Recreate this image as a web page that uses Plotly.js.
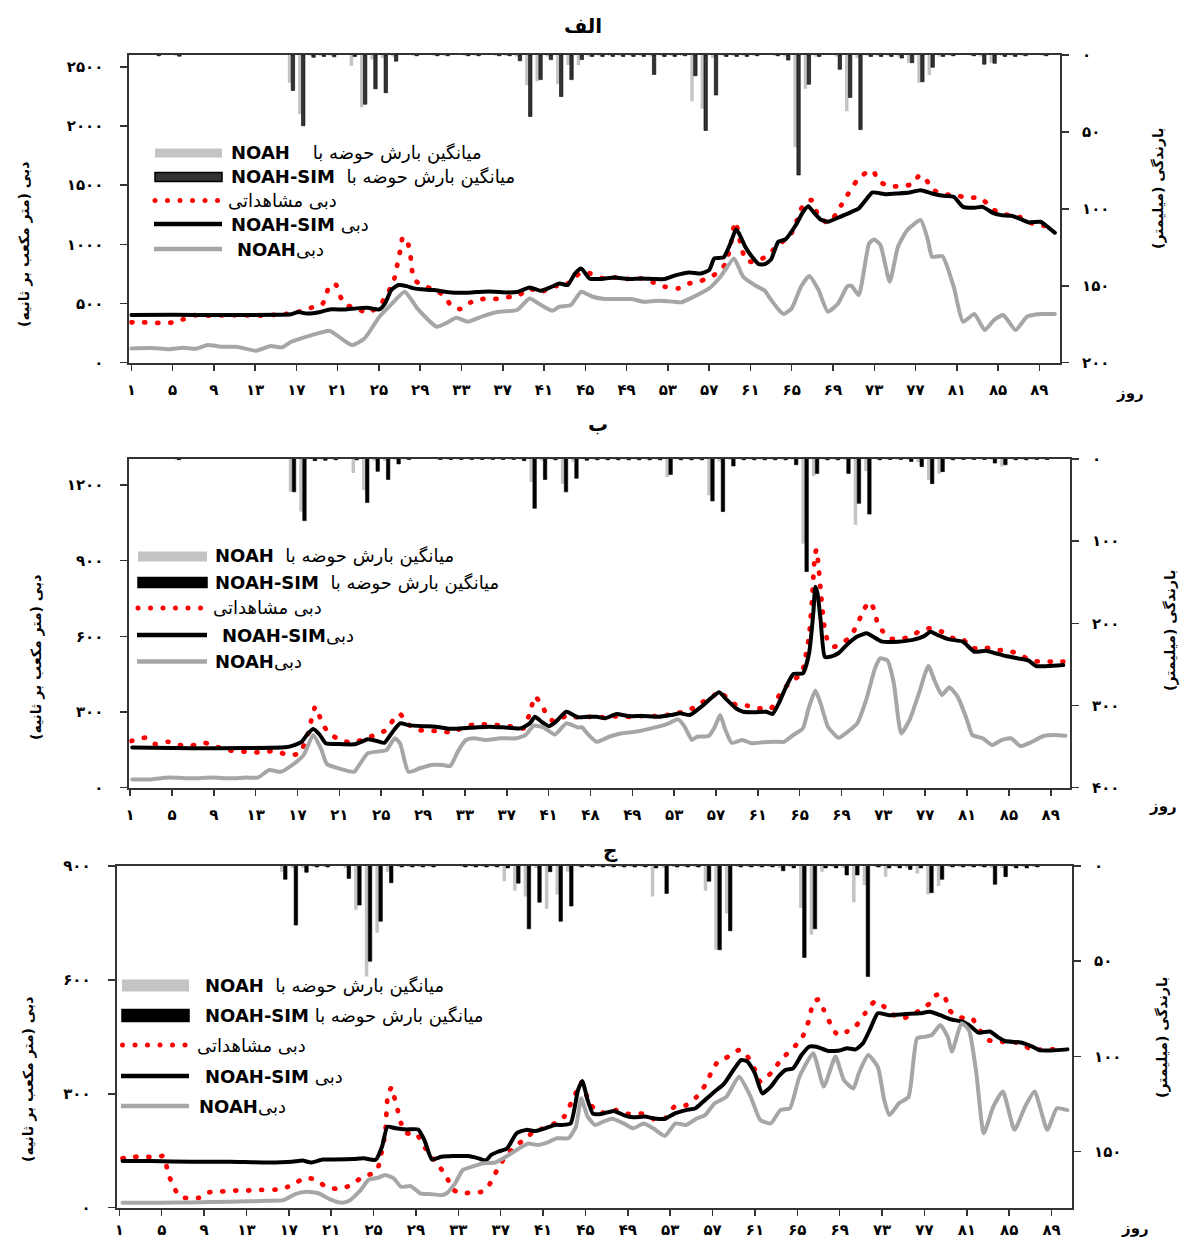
<!DOCTYPE html>
<html><head><meta charset="utf-8">
<script src="https://cdn.plot.ly/plotly-3.0.1.min.js"></script>
<style>
html,body{margin:0;padding:0;background:#fff}
#chart{width:1186px;height:1240px}
.scatterlayer .js-line{stroke-linecap:round;stroke-linejoin:round}
</style></head><body><div id="chart"></div>
<script>
// ---------------- DATA ----------------
const dayTicks = [1,5,9,13,17,21,25,29,33,37,41,45,49,53,57,61,65,69,73,77,81,85,89];
const dayTickTextAC = ['۱','۵','۹','۱۳','۱۷','۲۱','۲۵','۲۹','۳۳','۳۷','۴۱','۴۵','۴۹','۵۳','۵۷','۶۱','۶۵','۶۹','۷۳','۷۷','۸۱','۸۵','۸۹'];
const dayTickTextB  = ['۱','۵','۹','۱۳','۱۷','۲۱','۲۵','۲۹','۳۳','۳۷','۴۱','۴۸','۴۹','۵۳','۵۷','۶۱','۶۵','۶۹','۷۳','۷۷','۸۱','۸۵','۸۹'];

const qTicksA = [0,500,1000,1500,2000,2500];
const qTickTextA = ['۰','۵۰۰','۱۰۰۰','۱۵۰۰','۲۰۰۰','۲۵۰۰'];
const pTicksA = [0,50,100,150,200];
const pTickTextA = ['۰','۵۰','۱۰۰','۱۵۰','۲۰۰'];
const qTicksB = [0,300,600,900,1200];
const qTickTextB = ['۰','۳۰۰','۶۰۰','۹۰۰','۱۲۰۰'];
const pTicksB = [0,100,200,300,400];
const pTickTextB = ['۰','۱۰۰','۲۰۰','۳۰۰','۴۰۰'];
const qTicksC = [0,300,600,900];
const qTickTextC = ['۰','۳۰۰','۶۰۰','۹۰۰'];
const pTicksC = [0,50,100,150];
const pTickTextC = ['۰','۵۰','۱۰۰','۱۵۰'];

// Panel A (الف) — [day, discharge]
const aObs = [[1,341],[2,341],[3,338],[4,335],[5,340],[6,366],[7,400],[8,398],[9,397],[10,400],[11,400],[12,400],[13,398],[14,400],[15,405],[16,412],[17.2,430],[18.4,464],[19.5,492],[19.9,571],[20.2,656],[20.85,656],[21.2,571],[21.7,492],[22.8,460],[23.9,422],[25.05,480],[25.6,552],[26.1,628],[26.5,712],[26.7,797],[26.9,880],[27.1,965],[27.3,1058],[27.65,1050],[27.95,965],[28.1,873],[28.2,788],[28.4,704],[29.3,647],[30.4,620],[31.4,557],[32.0,481],[32.9,453],[33.9,510],[35.0,538],[36.2,538],[37.4,552],[38.6,571],[39.5,628],[40.7,594],[41.8,650],[42.9,642],[43.6,692],[44.6,763],[45.5,754],[46.7,712],[48,720],[49.3,707],[50.4,712],[51.6,678],[52.7,642],[54,628],[55.1,670],[56.2,692],[57.3,732],[58.1,782],[58.6,839],[59.1,1000],[59.5,1190],[59.8,1115],[60.1,980],[60.6,861],[61.4,853],[62.6,901],[63.5,980],[64.3,1036],[65,1098],[65.4,1177],[66.1,1331],[66.9,1374],[67.6,1239],[68.5,1182],[69.3,1255],[69.8,1331],[70.4,1416],[71.3,1537],[72.2,1605],[72.9,1619],[73.4,1537],[74.4,1492],[75.6,1492],[76.7,1509],[77.4,1585],[78.1,1537],[78.6,1464],[79.7,1424],[80.9,1416],[82,1393],[83.3,1393],[84.1,1331],[85,1267],[86.1,1247],[87.2,1227],[88.3,1177],[89.4,1157],[89.9,1150]];
const aSim = [[1,403],[5,405],[10,403],[15,405],[16.5,410],[17.2,428],[18,415],[19.3,428],[20.2,450],[21.7,450],[22.8,459],[23.9,464],[25.05,450],[25.6,501],[26.2,614],[26.9,656],[27.7,647],[28.4,628],[29.1,620],[30.3,614],[31.4,600],[32.5,591],[34,594],[35.1,600],[36.2,600],[37.4,594],[38.5,600],[39.6,636],[40.7,608],[41.6,636],[42.5,670],[43.3,656],[44,754],[44.6,797],[45.4,712],[46.5,707],[47.8,720],[49.1,707],[50.4,712],[51.7,707],[52.7,707],[53.8,740],[55.1,763],[56.2,754],[57,782],[57.5,881],[58.4,890],[59,994],[59.6,1126],[59.9,1092],[60.5,980],[61.1,901],[61.8,833],[62.4,833],[63,873],[63.7,1022],[64.4,1042],[65.4,1163],[66.1,1275],[66.6,1323],[67,1284],[67.8,1210],[68.5,1191],[69.7,1233],[70.8,1275],[71.5,1303],[72.3,1388],[72.8,1438],[74.1,1424],[75.3,1430],[76.4,1438],[77.5,1458],[78.6,1430],[79.7,1410],[80.7,1402],[81.6,1317],[82.7,1309],[83.5,1317],[84.6,1261],[85.3,1247],[86.3,1241],[87.2,1213],[88,1185],[89.1,1191],[89.6,1163],[90.5,1098]];
const aNoah = [[1,121],[3,124],[4.6,113],[6,127],[7.3,118],[8.4,149],[9.7,135],[11.2,135],[13.1,101],[14.5,141],[15.6,130],[16.5,177],[18,220],[19.1,248],[20.2,270],[21.1,220],[22.4,149],[23.6,205],[25.05,388],[26.2,493],[27.5,600],[28.8,450],[30.6,304],[31.6,338],[32.5,380],[33.6,346],[35.1,394],[36.6,430],[38.4,445],[39.6,543],[40.7,487],[41.8,439],[42.5,473],[43.6,487],[44.6,600],[45.7,557],[46.9,538],[48.4,538],[49.5,538],[50.6,515],[52.1,524],[53.6,515],[54.3,510],[55.5,557],[57,628],[58.1,726],[59.4,881],[60.3,726],[61.4,656],[62.4,608],[62.9,543],[63.9,431],[64.2,411],[65,459],[65.9,642],[66.7,732],[67.6,614],[68.5,431],[69.5,501],[70.4,647],[70.8,650],[71.5,571],[72.5,1008],[73,1042],[73.6,994],[74.5,684],[75.3,980],[76.2,1120],[77.5,1205],[78.2,1036],[78.6,895],[79.6,901],[80.7,642],[81.6,346],[82.7,411],[83.7,276],[84.6,360],[85.5,403],[86.7,276],[87.8,388],[89.1,411],[90.5,411]];
// [day, NOAH rain, NOAH-SIM rain] (mm)
const aRain = [[3,0,0.5],[5,0.5,0.8],[16,18,23],[17,38.5,46],[18,0.5,1.5],[19,0.5,1],[20,0.5,1.2],[22,7,1],[23,34,32],[24,3,22],[25,2,24.5],[26,1,4],[28,0.5,0.5],[30,0.5,0.5],[31,0.5,0.5],[33,0.5,0.5],[34,0.5,0.5],[36,0.5,0.5],[37,0.5,0.5],[38,1,3.7],[39,19.6,40],[40,17,16],[41,1,3],[42,19,27],[43,6.5,16],[44,6.5,3],[45,1,1],[46,0.5,1],[47,0.5,1],[48,0.5,1],[49,0.5,1],[50,0.5,1],[51,1,12.6],[52,0.5,1],[53,0.5,1],[54,0.5,0.5],[55,30,13.5],[56,35,49],[57,2,26],[58,0.5,1],[59,0.5,1],[60,0.5,1],[61,0.5,0.5],[63,0.5,0.5],[64,1,3.3],[65,60,78],[66,22,19],[67,1,1],[69,1,9.3],[70,36.5,27.6],[71,2,48.5],[72,0.5,1],[73,0.5,1],[74,0.5,1],[75,1,2],[76,5,5],[77,18,17.4],[78,13,8],[79,1,1],[80,0.5,0.5],[82,0.5,0.5],[83,1,6],[84,5,5.4],[85,0.5,1],[86,0.5,1],[87,0.5,0.5],[89,0.5,0.5]];

// Panel B (ب)
const bObs = [[1.1,185],[2.5,198],[3.4,173],[4.6,182],[5.7,169],[6.9,167],[8.1,178],[9.1,165],[10.2,149],[11.5,145],[12.7,139],[13.8,143],[14.9,145],[16.1,130],[17.2,136],[18.0,213],[18.2,245],[18.4,284],[18.7,321],[19.1,284],[19.5,245],[20.1,213],[21.1,189],[22.2,178],[23.3,192],[24.4,209],[25.5,229],[26.1,266],[26.8,292],[27.4,258],[28.3,231],[29.4,225],[30.7,225],[31.8,218],[32.9,242],[34.1,251],[35.3,251],[36.4,247],[37.6,242],[38.6,235],[39.1,284],[39.4,325],[39.7,363],[40.3,330],[40.8,292],[41.5,262],[42.7,285],[43.5,280],[44.2,281],[45.3,281],[46.4,279],[47.7,284],[48.8,281],[49.9,284],[51.2,284],[52.3,288],[53.4,297],[54.5,308],[55.4,334],[56.5,354],[57.3,381],[58.2,350],[58.9,328],[60,325],[61.1,315],[62.2,311],[62.8,348],[63.3,385],[64.2,420],[65.2,453],[65.5,506],[65.9,600],[66.2,760],[66.45,920],[66.6,945],[66.8,880],[67.05,760],[67.35,640],[67.7,580],[68.3,559],[69.1,575],[69.9,599],[70.4,641],[70.8,675],[71.2,711],[71.7,737],[72.2,698],[72.4,658],[72.9,622],[73.6,592],[74.7,588],[75.8,605],[76.8,628],[77.7,632],[78.6,618],[79.7,592],[80.6,588],[81.5,552],[82.6,557],[83.7,546],[85,543],[86.1,526],[87.1,504],[88,500],[89.1,500],[90.2,500]];
const bSim = [[1.2,159],[6.9,156],[12,157],[15.8,160],[16.7,169],[17.4,182],[18,215],[18.5,233],[19.1,211],[19.7,176],[20.9,173],[22.4,172],[23.1,182],[23.7,192],[24.6,185],[25.3,178],[26.1,222],[26.8,255],[27.6,248],[29,244],[30.2,242],[31.4,234],[32.5,235],[34,239],[35.3,242],[36.8,239],[38.3,235],[39.2,255],[39.7,281],[40.3,262],[41,244],[41.6,258],[42.7,301],[43.8,279],[44.7,281],[45.6,281],[46.4,275],[47.5,292],[48.6,284],[50,284],[51.5,281],[52.7,288],[53.6,295],[54.5,288],[55.6,321],[56.5,354],[57.3,378],[58,350],[58.9,315],[59.6,301],[60.7,299],[61.8,301],[62.4,292],[63,334],[63.7,400],[64.4,451],[65.3,453],[65.9,533],[66.3,691],[66.5,797],[66.7,771],[67,665],[67.4,519],[67.9,519],[68.7,533],[69.6,570],[70.5,599],[71.4,612],[72,599],[72.9,579],[74.4,579],[75.8,586],[76.9,601],[77.5,618],[78.2,605],[79.3,588],[80.6,579],[81.7,539],[82.8,543],[83.7,533],[84.7,522],[85.8,513],[86.9,504],[87.6,482],[88.7,482],[90.2,486]];
const bNoah = [[1.2,33],[3,33],[4.7,40],[6.9,37],[8.8,40],[10.6,37],[12.1,40],[13.2,40],[14.3,70],[15.4,63],[16.5,90],[17.6,130],[18.5,209],[19.3,149],[19.8,94],[20.9,77],[22.4,63],[22.9,90],[23.7,136],[24.6,143],[25.5,149],[26.3,196],[26.8,176],[27.6,63],[28.7,77],[29.8,90],[30.9,90],[31.6,86],[32.4,149],[33.1,189],[33.8,196],[35,189],[36.4,196],[37.9,196],[38.8,209],[39.6,246],[40.5,239],[41.6,211],[42.7,255],[43.8,239],[44.2,239],[44.7,215],[45.6,182],[46.8,202],[47.9,215],[49.3,222],[50.8,235],[52.3,252],[53.4,271],[54,242],[54.7,189],[55.2,202],[56.3,205],[56.9,242],[57.4,288],[57.9,229],[58.5,178],[59.5,189],[60.4,176],[61.5,180],[62.6,182],[63.5,182],[64.4,209],[65.3,235],[65.9,321],[66.5,385],[67,334],[67.7,242],[68.7,198],[69.6,222],[70.5,255],[71.4,354],[72.2,473],[72.7,513],[73.4,504],[74,414],[74.7,215],[75.5,268],[76.4,374],[77.3,482],[78,414],[78.6,367],[79.3,398],[80.1,361],[81,268],[81.5,209],[82.5,196],[83.4,169],[84.3,189],[85.2,196],[86.1,165],[87.2,182],[88.3,205],[89.4,209],[90.4,206]];
const bRain = [[5,0.5,0.8],[16,40,40],[17,64,75],[18,0.5,2],[19,0.5,1.5],[20,0.5,1],[22,17,1],[23,38,53],[24,2,15],[25,2,25],[26,1,6],[27,0.5,0.5],[30,0.5,0.5],[31,0.5,0.5],[32,0.5,0.5],[33,0.5,0.5],[34,0.5,0.5],[35,0.5,0.5],[36,0.5,0.5],[37,0.5,0.5],[38,1,2],[39,28,60],[40,2,25],[41,0.5,1],[42,30,40],[43,3.3,23.5],[44,0.5,1.5],[45,0.5,1],[46,0.5,1],[47,0.5,1],[48,0.5,1],[49,0.5,1],[50,0.5,1],[51,0.5,1],[52,22,19],[53,0.5,1],[54,0.5,1],[55,0.5,1],[56,44,51],[57,3,64],[58,1,8.5],[59,0.5,1],[60,0.5,1],[61,0.5,1],[62,0.5,1],[63,0.5,1],[64,1,7],[65,103,137],[66,20.7,17.5],[67,0.5,1],[68,0.5,1],[69,1,17.5],[70,80,54],[71,14.6,67],[72,0.5,1],[73,0.5,0.5],[74,0.5,0.5],[75,1,3],[76,4,9.3],[77,25.5,30],[78,18,15.4],[79,1,1],[80,0.5,0.5],[81,0.5,0.5],[82,0.5,0.5],[83,1,5],[84,9,7],[85,0.5,1],[86,0.5,1],[87,0.5,0.5],[88,0.5,0.5]];

// Panel C (ج)
const cObs = [[1.3,130],[2.4,134],[3.5,134],[4.4,133],[5.2,136],[5.6,90],[6.2,51],[6.7,29],[7.6,25],[8.5,26],[9.3,40],[10.4,42],[11.5,45],[12.9,45],[14.4,47],[15.8,48],[16.9,55],[17.8,68],[18.6,79],[19.6,73],[20.5,55],[21.4,50],[22.3,53],[23.1,64],[24,82],[24.9,90],[25.4,104],[25.8,152],[26.1,196],[26.35,297],[26.7,317],[26.95,292],[27.2,266],[27.6,222],[28.1,196],[29,196],[29.9,156],[30.7,126],[31.8,86],[32.5,48],[33.2,38],[34.3,40],[35.2,42],[35.8,55],[36.3,80],[36.9,112],[37.6,140],[38.5,165],[39.4,183],[40.3,205],[41.2,209],[42.1,222],[43,240],[43.7,279],[44.3,314],[44.6,330],[45.4,275],[46.1,253],[46.8,250],[47.9,257],[49,247],[49.7,248],[50.6,247],[51.5,233],[52.5,235],[53.4,266],[54.5,270],[55.5,292],[56.3,323],[57,363],[57.5,385],[58.5,398],[59.5,415],[60.3,398],[61,363],[61.5,332],[62.5,354],[63.2,380],[63.9,402],[64.6,420],[65.5,450],[66.1,494],[66.5,540],[67,549],[67.5,521],[68.1,486],[68.8,455],[69.7,464],[70.6,481],[71.4,512],[72.3,543],[73,534],[73.7,516],[74.6,499],[75.5,503],[76.6,521],[77.5,538],[78.1,560],[78.8,562],[79.4,519],[80.1,503],[81,499],[81.5,499],[82.1,472],[83,442],[83.9,437],[85,437],[86.1,433],[87.2,415],[88.3,417],[89.7,417]];
const cSim = [[1.3,123],[4,123],[7.8,121],[11.4,121],[15.1,119],[17.3,121],[18.3,124],[19.1,119],[20.2,127],[21.2,127],[23.1,128],[24.1,130],[25.2,126],[25.8,161],[26.3,213],[27.1,209],[28.1,206],[29.2,206],[29.8,178],[30.5,127],[31.4,134],[32.5,136],[33.9,136],[34.9,130],[35.6,124],[36.1,139],[36.8,148],[37.6,156],[38.5,196],[39.4,205],[40.3,202],[41.2,209],[42.1,218],[42.8,218],[43.6,222],[44.3,310],[44.7,334],[45.2,284],[45.7,248],[46.5,247],[47.7,255],[48.6,244],[49.5,238],[50.6,240],[51.5,235],[52.5,234],[53.4,248],[54.5,257],[55.4,262],[56.3,284],[57.2,306],[58.1,327],[59,364],[59.7,389],[60.3,385],[61,354],[61.7,301],[62.5,319],[63.2,345],[63.9,363],[64.6,367],[65.4,402],[66.1,424],[66.8,424],[67.9,413],[69,414],[69.7,420],[70.5,417],[71.2,433],[71.9,472],[72.6,512],[73.7,507],[75.2,510],[76.6,512],[77.5,516],[78.5,507],[79.5,496],[80.6,490],[81.4,477],[82.1,461],[83.2,464],[83.9,450],[84.6,439],[86.1,435],[87.2,424],[87.9,415],[89,414],[90.5,417]];
const cNoah = [[1.3,13],[4.9,13],[7.8,14],[11.4,16],[15.1,18],[16.5,20],[17.6,36],[18.7,42],[19.8,38],[20.9,22],[22,13],[22.7,18],[23.8,47],[24.5,73],[25.4,79],[26.1,86],[26.9,77],[27.6,55],[28.5,57],[29.4,38],[30.3,36],[31.4,33],[31.9,38],[32.7,64],[33.4,99],[34.3,108],[35.4,117],[36.5,119],[37.6,136],[38.5,152],[39.6,169],[40.5,165],[41.6,174],[42.3,183],[43.4,183],[44.1,213],[44.6,288],[45.2,240],[45.9,218],[46.8,228],[47.5,234],[48.6,222],[49.5,209],[50.5,222],[51.4,209],[52.5,189],[53.5,222],[54.5,218],[55.5,235],[56.3,244],[57.2,275],[58.3,292],[59.5,345],[60.6,292],[61.5,231],[62.5,222],[63.4,257],[64.3,262],[65.2,345],[66.5,407],[67.5,319],[68.6,398],[69.4,336],[70.3,314],[70.8,354],[71.7,402],[72.6,371],[73.2,284],[73.7,244],[74.6,275],[75.5,292],[76.3,446],[77,450],[77.7,455],[78.5,481],[79.2,450],[79.6,411],[80.5,486],[81.2,468],[81.9,354],[82.6,196],[83.5,266],[84.4,306],[85.5,205],[86.5,266],[87.4,306],[88.6,205],[89.5,262],[90.5,257]];
const cRain = [[16,3,7],[17,1,31],[18,1,3.3],[19,0.5,0.5],[20,0.5,0.5],[22,1,6.5],[23,23,20.5],[24,58,50],[25,35,29],[26,3,8.8],[27,0.5,0.5],[28,0.5,0.5],[29,0.5,0.5],[30,0.5,0.5],[33,0.5,0.5],[34,0.5,0.5],[35,0.5,0.5],[36,0.5,0.5],[37,8,1],[38,13,9],[39,16,33],[40,1,19],[41,22.5,3],[42,15,29],[43,3,21],[44,0.5,0.5],[45,0.5,0.5],[46,0.5,0.5],[47,0.5,0.5],[48,0.5,0.5],[49,0.5,0.5],[50,0.5,0.5],[51,16,1],[52,1,14.4],[53,0.5,0.5],[54,0.5,0.5],[55,0.5,0.5],[56,13,8],[57,44,44],[58,25,34],[59,0.5,0.5],[60,0.5,0.5],[61,0.5,0.5],[62,0.5,0.5],[63,1,2.5],[64,0.5,1],[65,22,48],[66,36,33],[67,3,1],[68,0.5,1],[69,1,4.7],[70,19,4.7],[71,10,58],[72,0.5,0.5],[73,5.6,1],[74,0.5,1],[75,1,1.8],[76,4,1],[77,15,14],[78,10.5,7],[79,0.5,0.5],[80,0.5,0.5],[81,0.5,0.5],[82,0.5,0.5],[83,1,9.6],[84,1,5.6],[85,0.5,1],[86,0.5,1],[87,0.5,0.5]];

const panelTitles = ['الف','ب','ج'];
const qAxisTitle = 'دبی (متر مکعب بر ثانیه)';
const pAxisTitle = 'بارندگی (میلیمتر)';
const dayAxisTitle = 'روز';
const legendTextsA = ['<b>NOAH</b>\u00a0\u00a0\u00a0\u00a0میانگین بارش حوضه با','<b>NOAH-SIM</b>\u00a0\u00a0میانگین بارش حوضه با','دبی مشاهداتی','<b>NOAH-SIM</b> دبی','<b>NOAH</b>دبی'];
const legendTextsB = ['<b>NOAH</b>\u00a0\u00a0میانگین بارش حوضه با','<b>NOAH-SIM</b>\u00a0\u00a0میانگین بارش حوضه با','دبی مشاهداتی','<b>NOAH-SIM</b>دبی','<b>NOAH</b>دبی'];
const legendTextsC = ['<b>NOAH</b>\u00a0\u00a0میانگین بارش حوضه با','<b>NOAH-SIM</b>\u00a0میانگین بارش حوضه با','دبی مشاهداتی','<b>NOAH-SIM</b> دبی','<b>NOAH</b>دبی'];

// ---------------- STYLE / LAYOUT ----------------
const W = 1186, H = 1240;
const px = x => x / W, py = y => 1 - y / H;
const FONT = 'DejaVu Sans';
const RED = '#ff0000', BLACK = '#000000', GRAY_LINE = '#a6a6a6', GRAY_BAR = '#c4c4c4';

const panels = [
  {obs:aObs, sim:aSim, noah:aNoah, rain:aRain, xa:'x', ya:'y', yr:'y2', simBar:'#333333',
   xdom:[129.4,1060], ydom:[362.7,55], xr:[0.82,91.0], qr:[0,2600], pr:[200,0], xStand:6,
   qt:qTicksA, qtt:qTickTextA, pt:pTicksA, ptt:pTickTextA, xtt:dayTickTextAC,
   title:[583,26], qTitle:[25,245], pTitle:[1158,188], dayT:[1130,393],
   leg:{sx:[155,222], ys:[153,177,200.5,224,249], tx:[229,229,226,229,235], dots:[155,167.5,180,192.5,205,217.5], th:9, texts:legendTextsA}},
  {obs:bObs, sim:bSim, noah:bNoah, rain:bRain, xa:'x2', ya:'y3', yr:'y4', simBar:'#000000',
   xdom:[129.4,1070], ydom:[787.7,459], xr:[0.93,90.84], qr:[0,1303], pr:[400,0], xStand:6,
   qt:qTicksB, qtt:qTickTextB, pt:pTicksB, ptt:pTickTextB, xtt:dayTickTextB,
   title:[598,424], qTitle:[36,658], pTitle:[1170,630], dayT:[1163,806],
   leg:{sx:[138,207], ys:[556.5,582.5,608,635,661.5], tx:[213,213,211,220,213], dots:[138,150.5,163,175.5,188,200.5], th:10, texts:legendTextsB}},
  {obs:cObs, sim:cSim, noah:cNoah, rain:cRain, xa:'x3', ya:'y5', yr:'y6', simBar:'#000000',
   xdom:[116.7,1072], ydom:[1207.7,866], xr:[0.75,90.93], qr:[0,900], pr:[179.4,0], xStand:1,
   qt:qTicksC, qtt:qTickTextC, pt:pTicksC, ptt:pTickTextC, xtt:dayTickTextAC,
   title:[610,850], qTitle:[28,1080], pTitle:[1162,1037], dayT:[1135,1228],
   leg:{sx:[122,189], ys:[985.5,1015.5,1045,1076,1106], tx:[203,203,195,203,197], dots:[122.5,135,147.5,160,172.5,185], th:12, texts:legendTextsC}}
];

const traces = [];
const layout = {
  width: W, height: H, margin:{l:0,r:0,t:0,b:0}, paper_bgcolor:'#fff', plot_bgcolor:'rgba(0,0,0,0)',
  showlegend:false, barmode:'group', bargap:0.34, bargroupgap:0,
  annotations:[], shapes:[]
};
const tickFont = {family:FONT, size:15, color:'#000', weight:'bold'};

panels.forEach((p, i) => {
  const xKey = p.xa === 'x' ? 'xaxis' : 'xaxis' + p.xa.slice(1);
  const yKey = 'yaxis' + (p.ya === 'y' ? '' : p.ya.slice(1));
  const yrKey = 'yaxis' + p.yr.slice(1);
  layout[xKey] = {domain:[px(p.xdom[0]), px(p.xdom[1])], range:p.xr, anchor:p.ya,
    tickmode:'array', tickvals:dayTicks, ticktext:p.xtt, ticks:'outside', ticklen:6, tickwidth:1.5, tickcolor:'#333',
    showline:true, linecolor:'#333', linewidth:2, mirror:true, showgrid:false, zeroline:false,
    tickfont:tickFont, ticklabelstandoff:p.xStand, fixedrange:true};
  layout[yKey] = {domain:[py(p.ydom[0]), py(p.ydom[1])], range:p.qr, anchor:p.xa,
    tickmode:'array', tickvals:p.qt, ticktext:p.qtt, ticks:'outside', ticklen:7, tickwidth:1.5, tickcolor:'#333',
    showline:true, linecolor:'#333', linewidth:2, showgrid:false, zeroline:false,
    tickfont:tickFont, ticklabelstandoff:14, fixedrange:true};
  layout[yrKey] = {overlaying:p.ya, side:'right', anchor:p.xa, range:p.pr,
    tickmode:'array', tickvals:p.pt, ticktext:p.ptt, ticks:'outside', ticklen:7, tickwidth:1.5, tickcolor:'#333',
    showline:true, linecolor:'#333', linewidth:2, showgrid:false, zeroline:false,
    tickfont:tickFont, ticklabelstandoff:10, fixedrange:true};

  // rain bars (hanging from top, on reversed right axis)
  traces.push({type:'bar', x:p.rain.map(r => r[0] + 0.5), y:p.rain.map(r => r[1]), xaxis:p.xa, yaxis:p.yr,
    marker:{color:GRAY_BAR, line:{width:0}}, hoverinfo:'skip'});
  traces.push({type:'bar', x:p.rain.map(r => r[0] + 0.5), y:p.rain.map(r => r[2]), xaxis:p.xa, yaxis:p.yr,
    marker:{color:p.simBar, line:{width:0.6, color:'#000'}}, hoverinfo:'skip'});
  // discharge lines
  traces.push({type:'scatter', mode:'lines', x:p.obs.map(v => v[0]), y:p.obs.map(v => v[1]), xaxis:p.xa, yaxis:p.ya,
    line:{color:RED, width:4.8, dash:'1px,12px', shape:'spline', smoothing:0.5}, hoverinfo:'skip'});
  traces.push({type:'scatter', mode:'lines', x:p.sim.map(v => v[0]), y:p.sim.map(v => v[1]), xaxis:p.xa, yaxis:p.ya,
    line:{color:BLACK, width:4, shape:'spline', smoothing:0.5}, hoverinfo:'skip'});
  traces.push({type:'scatter', mode:'lines', x:p.noah.map(v => v[0]), y:p.noah.map(v => v[1]), xaxis:p.xa, yaxis:p.ya,
    line:{color:GRAY_LINE, width:4, shape:'spline', smoothing:0.5}, hoverinfo:'skip'});

  // titles
  layout.annotations.push({text:panelTitles[i], x:px(p.title[0]), y:py(p.title[1]), xref:'paper', yref:'paper',
    showarrow:false, xanchor:'center', yanchor:'middle', font:{family:FONT, size:20, color:'#000', weight:'bold'}});
  layout.annotations.push({text:qAxisTitle, x:px(p.qTitle[0]), y:py(p.qTitle[1]), xref:'paper', yref:'paper', textangle:-90,
    showarrow:false, xanchor:'center', yanchor:'middle', font:{family:FONT, size:14, color:'#000', weight:'bold'}});
  layout.annotations.push({text:pAxisTitle, x:px(p.pTitle[0]), y:py(p.pTitle[1]), xref:'paper', yref:'paper', textangle:-90,
    showarrow:false, xanchor:'center', yanchor:'middle', font:{family:FONT, size:14, color:'#000', weight:'bold'}});
  layout.annotations.push({text:dayAxisTitle, x:px(p.dayT[0]), y:py(p.dayT[1]), xref:'paper', yref:'paper',
    showarrow:false, xanchor:'center', yanchor:'middle', font:{family:FONT, size:15, color:'#000', weight:'bold'}});

  // legend (drawn by hand to match the reference layout)
  const L = p.leg, h = L.th / 2;
  layout.shapes.push({type:'rect', xref:'paper', yref:'paper', x0:px(L.sx[0]), x1:px(L.sx[1]), y0:py(L.ys[0]-h), y1:py(L.ys[0]+h),
    fillcolor:GRAY_BAR, line:{width:0}});
  layout.shapes.push({type:'rect', xref:'paper', yref:'paper', x0:px(L.sx[0]), x1:px(L.sx[1]), y0:py(L.ys[1]-h), y1:py(L.ys[1]+h),
    fillcolor:p.simBar, line:{width:1.5, color:'#000'}});
  L.dots.forEach(d => layout.shapes.push({type:'circle', xref:'paper', yref:'paper', x0:px(d-2.5), x1:px(d+2.5),
    y0:py(L.ys[2]-2.5), y1:py(L.ys[2]+2.5), fillcolor:RED, line:{width:0}}));
  layout.shapes.push({type:'line', xref:'paper', yref:'paper', x0:px(L.sx[0]-1), x1:px(L.sx[1]), y0:py(L.ys[3]), y1:py(L.ys[3]),
    line:{color:BLACK, width:4.5}});
  layout.shapes.push({type:'line', xref:'paper', yref:'paper', x0:px(L.sx[0]-1), x1:px(L.sx[1]), y0:py(L.ys[4]), y1:py(L.ys[4]),
    line:{color:GRAY_LINE, width:4.5}});
  L.texts.forEach((t, k) => layout.annotations.push({text:t, x:px(L.tx[k]), y:py(L.ys[k]), xref:'paper', yref:'paper',
    showarrow:false, xanchor:'left', yanchor:'middle', font:{family:'DejaVu Sans', size:18, color:'#000'}}));
});

Plotly.newPlot('chart', traces, layout, {displayModeBar:false, staticPlot:true});
</script></body></html>
